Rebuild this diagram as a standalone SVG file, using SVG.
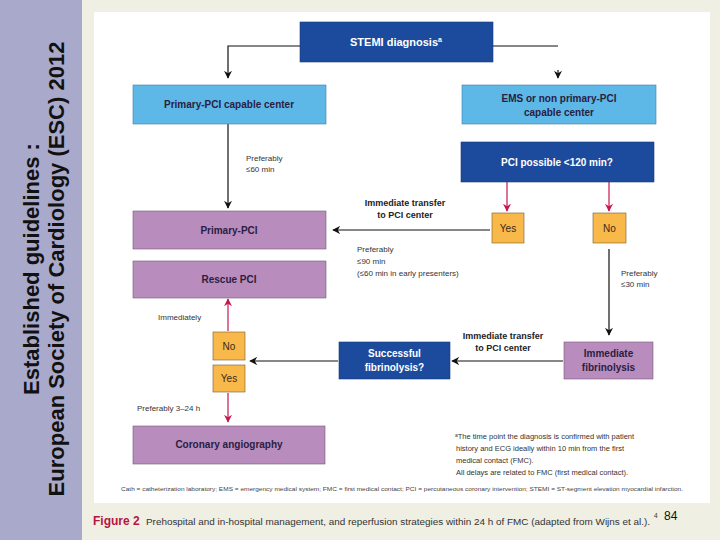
<svg xmlns="http://www.w3.org/2000/svg" width="720" height="540" viewBox="0 0 720 540">
<defs>
<style>
.side{font-family:"Liberation Sans",Arial,sans-serif;font-weight:bold;font-size:22px;fill:#111;}
.bt{font-family:"Liberation Sans",Arial,sans-serif;font-weight:bold;font-size:10px;text-anchor:middle;}
.w{fill:#fff;}
.d{fill:#2a2040;}
.yn{font-family:"Liberation Sans",Arial,sans-serif;font-size:10px;text-anchor:middle;fill:#3a2a1a;}
.sm{font-family:"Liberation Sans",Arial,sans-serif;font-size:8px;fill:#333;}
.tr{font-family:"Liberation Sans",Arial,sans-serif;font-weight:bold;font-size:9px;fill:#222;text-anchor:middle;}
.fn{font-family:"Liberation Sans",Arial,sans-serif;font-size:7.5px;fill:#333;}
.dark{fill:#1c4a9c;stroke:#183c7a;stroke-width:0.6;}
.light{fill:#5db8e8;stroke:#3d7fa8;stroke-width:0.6;}
.purp{fill:#b98cbe;stroke:#6e5a72;stroke-width:0.6;}
.ora{fill:#f8b84a;stroke:#7a5a2a;stroke-width:0.6;}
.k{stroke:#111;stroke-width:1.2;fill:none;}
.r{stroke:#c8164e;stroke-width:1.2;fill:none;}
</style>
<marker id="ak" viewBox="0 0 10 10" refX="9" refY="5" markerWidth="8" markerHeight="8" markerUnits="userSpaceOnUse" orient="auto">
<path d="M0,0 L10,5 L0,10 L3,5 z" fill="#111"/>
</marker>
<marker id="ar" viewBox="0 0 10 10" refX="9" refY="5" markerWidth="8" markerHeight="8" markerUnits="userSpaceOnUse" orient="auto">
<path d="M0,0 L10,5 L0,10 L3,5 z" fill="#c8164e"/>
</marker>
</defs>

<rect x="0" y="0" width="720" height="540" fill="#efefe3"/>
<rect x="0" y="0" width="82" height="540" fill="#a9a9cb"/>
<rect x="94" y="12" width="616" height="491" fill="#ffffff"/>

<g id="sidebar">
<text class="side" transform="translate(39,269) rotate(-90)" text-anchor="middle">Established guidelines :</text>
<text class="side" transform="translate(64,269) rotate(-90)" text-anchor="middle">European Society of Cardiology (ESC) 2012</text>
</g>

<g id="connectors">
<path class="k" d="M300,46 H228 V78" marker-end="url(#ak)"/>
<path class="k" d="M493,46 H558"/>
<path class="k" d="M558,70 V78" marker-end="url(#ak)"/>
<path class="k" d="M228,124 V208" marker-end="url(#ak)"/>
<path class="r" d="M507,182 V211" marker-end="url(#ar)"/>
<path class="r" d="M609,182 V211" marker-end="url(#ar)"/>
<path class="k" d="M490,230 H333" marker-end="url(#ak)"/>
<path class="k" d="M609,249 V335" marker-end="url(#ak)"/>
<path class="k" d="M563,361 H452" marker-end="url(#ak)"/>
<path class="k" d="M338,361 H250" marker-end="url(#ak)"/>
<path class="r" d="M228,331 V299" marker-end="url(#ar)"/>
<path class="r" d="M228,393 V422" marker-end="url(#ar)"/>
</g>

<g id="stemi">
<rect class="dark" x="300" y="22" width="193" height="40"/>
<text class="bt w" x="396" y="46" style="font-size:11px">STEMI diagnosis<tspan font-size="7" dy="-4">a</tspan></text>
</g>
<g id="pci-capable">
<rect class="light" x="133" y="85" width="193" height="39"/>
<text class="bt d" x="229" y="108">Primary-PCI capable center</text>
</g>
<g id="ems">
<rect class="light" x="462" y="85" width="194" height="39"/>
<text class="bt d" x="559" y="102">EMS or non primary-PCI</text>
<text class="bt d" x="559" y="116">capable center</text>
</g>
<g id="pci-possible">
<rect class="dark" x="461" y="142" width="193" height="40"/>
<text class="bt w" x="557" y="166">PCI possible &lt;120 min?</text>
</g>
<g id="yes-right">
<rect class="ora" x="492" y="213" width="32" height="30"/>
<text class="yn" x="508" y="232">Yes</text>
</g>
<g id="no-right">
<rect class="ora" x="593" y="213" width="33" height="30"/>
<text class="yn" x="609.5" y="232">No</text>
</g>
<g id="primary-pci">
<rect class="purp" x="133" y="211" width="193" height="38"/>
<text class="bt d" x="229" y="234">Primary-PCI</text>
</g>
<g id="rescue-pci">
<rect class="purp" x="133" y="261" width="193" height="37"/>
<text class="bt d" x="229" y="283">Rescue PCI</text>
</g>
<g id="no-left">
<rect class="ora" x="213" y="332" width="32" height="28"/>
<text class="yn" x="229" y="350">No</text>
</g>
<g id="yes-left">
<rect class="ora" x="213" y="365" width="32" height="27"/>
<text class="yn" x="229" y="382">Yes</text>
</g>
<g id="successful">
<rect class="dark" x="339" y="342" width="111" height="37"/>
<text class="bt w" x="394.5" y="357">Successful</text>
<text class="bt w" x="394.5" y="371">fibrinolysis?</text>
</g>
<g id="immediate-fibrinolysis">
<rect class="purp" x="564" y="342" width="89" height="37"/>
<text class="bt d" x="608.5" y="357">Immediate</text>
<text class="bt d" x="608.5" y="371">fibrinolysis</text>
</g>
<g id="coronary">
<rect class="purp" x="133" y="426" width="192" height="38"/>
<text class="bt d" x="229" y="448">Coronary angiography</text>
</g>

<g id="labels">
<text class="sm" x="246" y="161">Preferably</text>
<text class="sm" x="246" y="172">≤60 min</text>
<text class="tr" x="405" y="206">Immediate transfer</text>
<text class="tr" x="405" y="218">to PCI center</text>
<text class="sm" x="357" y="252">Preferably</text>
<text class="sm" x="357" y="264">≤90 min</text>
<text class="sm" x="357" y="276">(≤60 min in early presenters)</text>
<text class="sm" x="621" y="276">Preferably</text>
<text class="sm" x="621" y="287">≤30 min</text>
<text class="sm" x="158" y="320">Immediately</text>
<text class="tr" x="503" y="339">Immediate transfer</text>
<text class="tr" x="503" y="351">to PCI center</text>
<text class="sm" x="137" y="411">Preferably 3–24 h</text>
</g>

<g id="footnote">
<text class="fn" x="455" y="439"><tspan font-size="5" dy="-2">a</tspan><tspan dy="2">The time point the diagnosis is confirmed with patient</tspan></text>
<text class="fn" x="456" y="451">history and ECG ideally within 10 min from the first</text>
<text class="fn" x="456" y="463">medical contact (FMC).</text>
<text class="fn" x="456" y="475">All delays are related to FMC (first medical contact).</text>
<text x="121" y="491" font-family="Liberation Sans, Arial, sans-serif" font-size="5.5" fill="#444" textLength="562" lengthAdjust="spacingAndGlyphs">Cath = catheterization laboratory; EMS = emergency medical system; FMC = first medical contact; PCI = percutaneous coronary intervention; STEMI = ST-segment elevation myocardial infarction.</text>
</g>

<g id="caption">
<text x="93" y="525" font-family="Liberation Sans, Arial, sans-serif" font-weight="bold" font-size="12" fill="#b5163f">Figure 2</text>
<text x="146" y="525" font-family="Liberation Sans, Arial, sans-serif" font-size="9.2" fill="#333" textLength="504" lengthAdjust="spacingAndGlyphs">Prehospital and in-hospital management, and reperfusion strategies within 24 h of FMC (adapted from Wijns et al.).</text>
<text x="654" y="518" font-family="Liberation Sans, Arial, sans-serif" font-size="6.5" fill="#333">4</text>
<text x="664" y="520" font-family="Liberation Sans, Arial, sans-serif" font-size="12" fill="#111">84</text>
</g>
</svg>
